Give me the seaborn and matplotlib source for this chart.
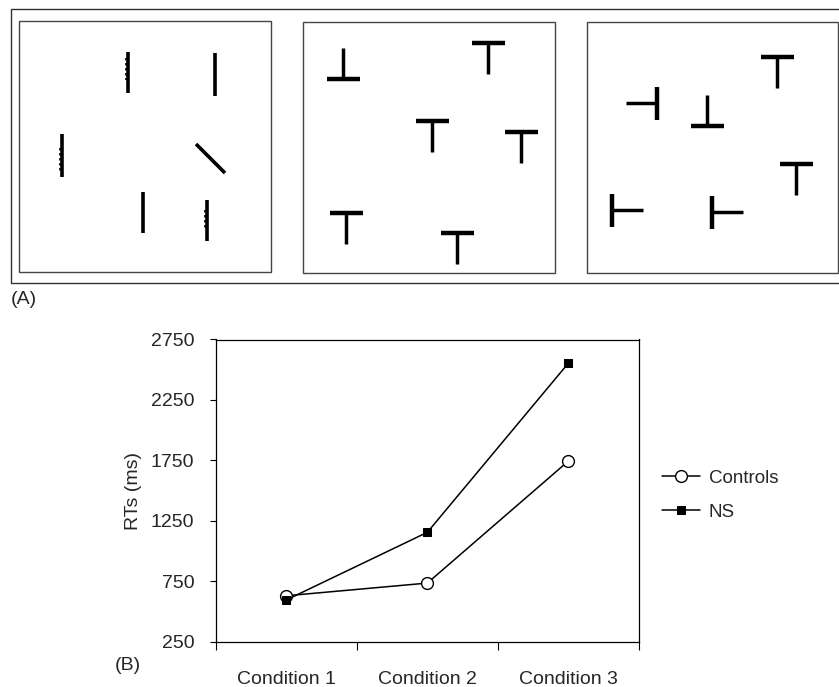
import pandas as pd
import numpy as np
import matplotlib
matplotlib.use("Agg")
import matplotlib.pyplot as plt
from matplotlib.patches import Rectangle
import seaborn as sns

# data for panel B
conditions = ["Condition 1", "Condition 2", "Condition 3"]
controls_rt = [630, 735, 1745]
ns_rt = [595, 1155, 2555]
y_ticks = [250, 750, 1250, 1750, 2250, 2750]

# panel A stimuli, in figure pixels (schematic drawings, not data)
panel_boxes = [(19, 21, 271, 272), (303, 22, 555, 273), (587, 22, 838, 273)]
plain_lines = [
    (128, 52, 128, 93), (215, 53, 215, 96), (62, 134, 62, 177),
    (196, 144, 225, 173), (143, 192, 143, 233), (207, 200, 207, 241),
]
# little texture marks on the left of some lines: (x, y_start, y_end)
texture = [(126, 58, 80), (60, 148, 173), (205, 210, 230)]
# (bar centre x, bar centre y, stem direction)
t_shapes = [
    (343, 79, "up"), (488, 43, "down"), (432, 121, "down"),
    (521, 132, "down"), (346, 213, "down"), (457, 233, "down"),
    (777, 57, "down"), (657, 103, "left"), (707, 126, "up"),
    (796, 164, "down"), (612, 210, "right"), (712, 212, "right"),
]

sns.set_style("ticks")
plt.rcParams["font.family"] = ["Liberation Sans", "DejaVu Sans"]

W, H = 839, 687
fig = plt.figure(figsize=(W / 100, H / 100), dpi=100)

# ---- panel A: drawn on a full-figure overlay in pixel coords
ax_a = fig.add_axes([0, 0, 1, 1])
ax_a.set_xlim(0, W)
ax_a.set_ylim(H, 0)
ax_a.axis("off")

ax_a.plot([845, 10.7, 10.7, 845], [9.3, 9.3, 283, 283], color="#333333", lw=1.0)
for x0, y0, x1, y1 in panel_boxes:
    ax_a.add_patch(Rectangle((x0, y0), x1 - x0, y1 - y0, fill=False,
                             edgecolor="#444444", lw=1.0))

for x0, y0, x1, y1 in plain_lines:
    ax_a.plot([x0, x1], [y0, y1], color="black", lw=2.6, solid_capstyle="butt")
for x, ys, ye in texture:
    ax_a.plot([x, x], [ys, ye], color="black", lw=1.2, ls=(0, (1.5, 1.5)))

bar_half, stem_len = 16.5, 31
dirs = {"down": (0, 1), "up": (0, -1), "left": (-1, 0), "right": (1, 0)}
for bx, by, d in t_shapes:
    dx, dy = dirs[d]
    # bar perpendicular to stem
    px, py = dy, dx
    ax_a.plot([bx - px * bar_half, bx + px * bar_half],
              [by - py * bar_half, by + py * bar_half],
              color="black", lw=3.2, solid_capstyle="butt")
    ax_a.plot([bx, bx + dx * stem_len], [by, by + dy * stem_len],
              color="black", lw=2.5, solid_capstyle="butt")

fig.text(11 / W, 1 - 300 / H, "(A)", fontsize=14, va="center", ha="left")

# ---- panel B
ax = fig.add_axes([215.7 / W, 45.3 / H, (639 - 215.7) / W, (641.7 - 339.5) / H])

sns.lineplot(x=conditions, y=controls_rt, ax=ax, color="black", lw=1.1,
             marker="o", ms=8.5, mfc="white", mec="black", mew=1.0,
             label="Controls", sort=False)
sns.lineplot(x=conditions, y=ns_rt, ax=ax, color="black", lw=1.1,
             marker="s", ms=6, mfc="black", mec="black",
             label="NS", sort=False)

ax.set_xlim(-0.5, 2.5)
ax.set_ylim(250, 2750)
ax.set_yticks(y_ticks)
ax.set_yticklabels([str(v) for v in y_ticks], fontsize=14)
ax.set_xticks([-0.5, 0.5, 1.5, 2.5])
ax.set_xticklabels([])
ax.set_xticks([0, 1, 2], minor=True)
ax.set_xticklabels(conditions, minor=True, fontsize=14)
ax.tick_params(axis="x", which="major", direction="out", length=6, width=0.8, color="black")
ax.tick_params(axis="x", which="minor", length=0, pad=21)
ax.tick_params(axis="y", direction="out", length=4.5, width=0.8, color="black", pad=11)
ax.set_xlabel("")
ax.set_ylabel("RTs (ms)", fontsize=14, labelpad=6)
for s in ax.spines.values():
    s.set_visible(True)
    s.set_color("black")
    s.set_linewidth(0.9)

ax.legend(loc="center left", bbox_to_anchor=(662 / W, 1 - 495 / H),
          bbox_transform=fig.transFigure, frameon=False, fontsize=13.5,
          handlelength=2.0, handletextpad=0.5, labelspacing=0.9,
          borderpad=0, borderaxespad=0)

fig.text(115 / W, 1 - 665 / H, "(B)", fontsize=14, va="center", ha="left")

fig.savefig("out.png", dpi=100, facecolor="white")
